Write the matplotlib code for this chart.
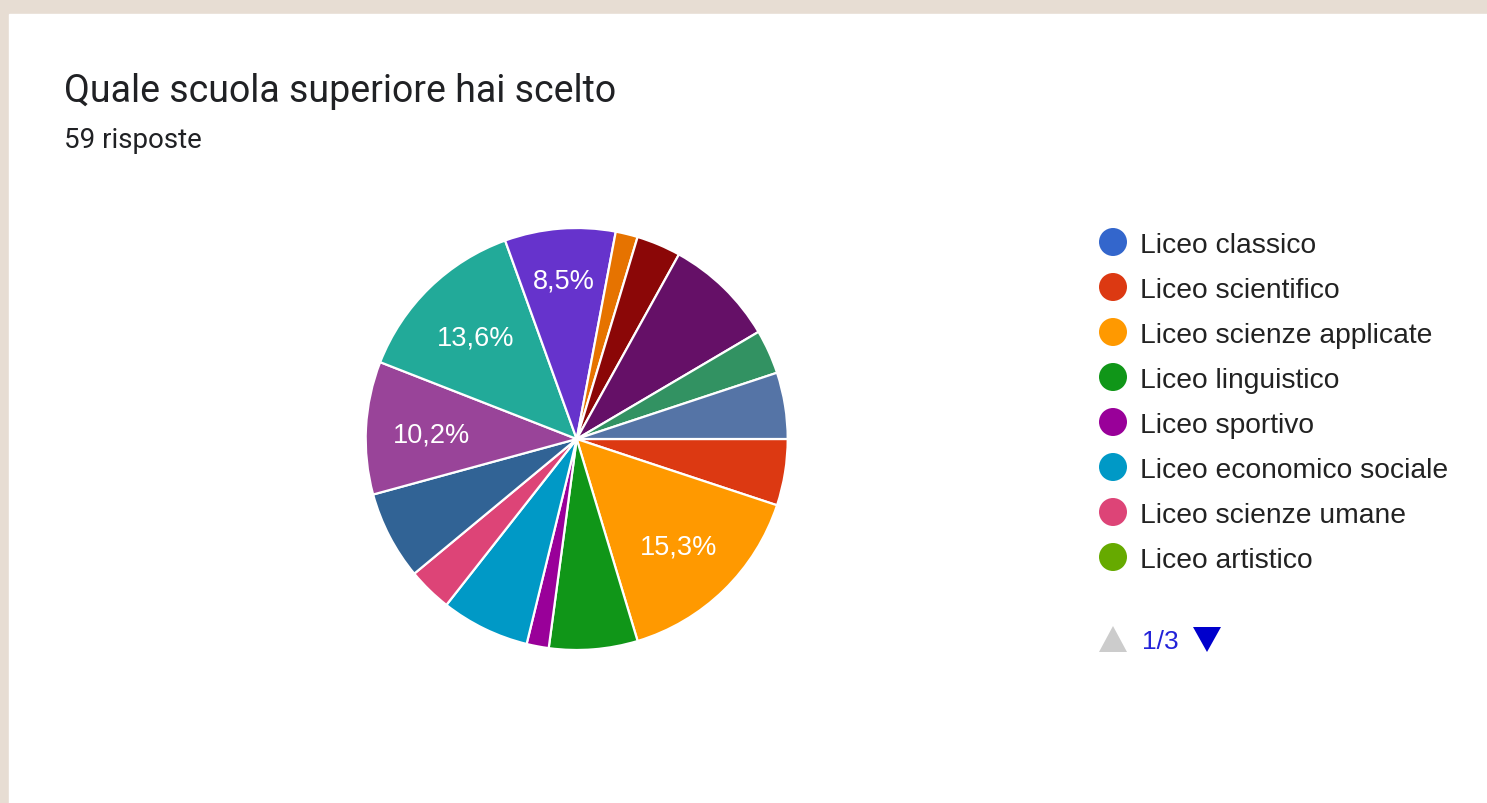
import matplotlib
matplotlib.use("Agg")
import matplotlib.pyplot as plt
from matplotlib.patches import Rectangle, Circle, Polygon
import numpy as np

# ---------------- data ----------------
title = "Quale scuola superiore hai scelto"
subtitle = "59 risposte"

# legend page 1/3 (first 8 options)
legend_labels = [
    "Liceo classico",
    "Liceo scientifico",
    "Liceo scienze applicate",
    "Liceo linguistico",
    "Liceo sportivo",
    "Liceo economico sociale",
    "Liceo scienze umane",
    "Liceo artistico",
]

# responses per option, in option order (options 9-19 are on legend pages 2-3)
responses = [0, 3, 9, 4, 1, 4, 2, 0, 0, 4, 6, 8, 0, 5, 1, 2, 5, 2, 3]

# percentage labels shown inside slices (Google hides some)
show_label = [False, False, True, False, False, False, False, False, False,
              False, True, True, False, True, False, False, False, False, False]

slice_colors = ["#3366CC", "#DC3912", "#FF9900", "#109618", "#990099",
                "#0099C6", "#DD4477", "#66AA00", "#B82E2E", "#316395",
                "#994499", "#22AA99", "#AAAA11", "#6633CC", "#E67300",
                "#8B0707", "#651067", "#329262", "#5574A6"]

page_text = "1/3"

# ---------------- figure ----------------
W, H = 1487, 804
fig = plt.figure(figsize=(W / 100, H / 100), dpi=100)

bg = fig.add_axes([0, 0, 1, 1])
bg.set_xlim(0, W)
bg.set_ylim(H, 0)
bg.axis("off")
bg.add_patch(Rectangle((0, 0), W, H, color="#E7DDD3", zorder=0))
bg.add_patch(Rectangle((9, 15), W, H, color="white", zorder=1))

bg.text(64, 102, title, fontsize=27, family="Roboto", color="#202124",
        va="baseline", ha="left", zorder=3)
bg.text(64, 148, subtitle, fontsize=20, family="Roboto", color="#202124",
        va="baseline", ha="left", zorder=3)

# legend
leg_x, leg_y0, leg_dy = 1113, 243, 45
for i, lab in enumerate(legend_labels):
    y = leg_y0 + i * leg_dy
    bg.add_patch(Circle((leg_x, y), 14, color=slice_colors[i], zorder=3, lw=0))
    bg.text(leg_x + 27, y, lab, fontsize=20.3, family="Liberation Sans",
            color="#222222", va="center_baseline", ha="left", zorder=3)

py = 640
bg.add_patch(Polygon([(1099, py + 13), (1127, py + 13), (1113, py - 13)],
                     closed=True, color="#CCCCCC", zorder=3, lw=0))
bg.text(1142, py, page_text, fontsize=19, family="Liberation Sans",
        color="#2323D9", va="center_baseline", ha="left", zorder=3)
bg.add_patch(Polygon([(1193, py - 12), (1221, py - 12), (1207, py + 13)],
                     closed=True, color="#0000CC", zorder=3, lw=0))

# pie
cx, cy, R = 576.7, 440, 211
pie_ax = fig.add_axes([(cx - R) / W, (H - cy - R) / H, 2 * R / W, 2 * R / H])

vals = [v for v in responses if v > 0]
cols = [c for v, c in zip(responses, slice_colors) if v > 0]
shows = [s for v, s in zip(responses, show_label) if v > 0]
total = sum(vals)

wedges, _ = pie_ax.pie(vals, colors=cols, startangle=0, counterclock=False,
                       radius=1, wedgeprops=dict(edgecolor="white", linewidth=1.6))
pie_ax.set_xlim(-1, 1)
pie_ax.set_ylim(-1, 1)
pie_ax.axis("off")

cum = 0
for v, s in zip(vals, shows):
    mid = (cum + v / 2) / total * 360
    cum += v
    if not s:
        continue
    ang = np.deg2rad(-mid)
    r = 0.69 if v / total > 0.09 else 0.77
    txt = f"{v / total * 100:.1f}%".replace(".", ",")
    pie_ax.text(r * np.cos(ang), r * np.sin(ang), txt, ha="center",
                va="center_baseline", fontsize=19.5, family="Liberation Sans",
                color="white")

fig.savefig("out.png", dpi=100)
